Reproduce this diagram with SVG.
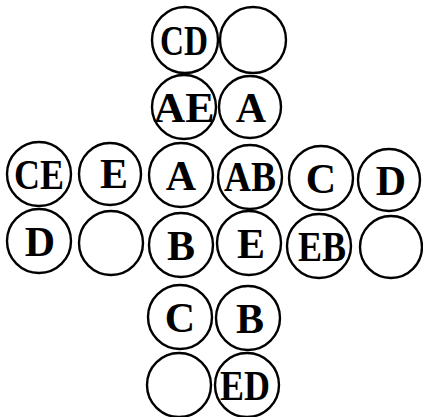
<svg xmlns="http://www.w3.org/2000/svg" width="423" height="417" viewBox="0 0 423 417">
<style>
.c{fill:#fff;stroke:#000;stroke-width:2.4}
.t{font-family:"Liberation Serif","DejaVu Serif",serif;font-weight:bold;font-size:42px;text-anchor:middle;fill:#000}
</style>
<rect width="423" height="417" fill="#fff"/>
<g id="n-cd"><circle class="c" cx="185" cy="40" r="33"/><text class="t" x="184" y="55" textLength="48" lengthAdjust="spacingAndGlyphs">CD</text></g>
<g id="n-e1"><circle class="c" cx="253" cy="40" r="33"/></g>
<g id="n-ae"><circle class="c" cx="184" cy="107" r="32"/><text class="t" x="184" y="122" textLength="61" lengthAdjust="spacingAndGlyphs">AE</text></g>
<g id="n-a1"><circle class="c" cx="250" cy="107" r="31"/><text class="t" x="251" y="122">A</text></g>
<g id="n-ce"><circle class="c" cx="39" cy="174" r="32"/><text class="t" x="39" y="189" textLength="50" lengthAdjust="spacingAndGlyphs">CE</text></g>
<g id="n-e2"><circle class="c" cx="110" cy="174" r="31"/><text class="t" x="114" y="188">E</text></g>
<g id="n-a2"><circle class="c" cx="181" cy="175" r="32"/><text class="t" x="181" y="190">A</text></g>
<g id="n-ab"><circle class="c" cx="250" cy="177" r="32"/><text class="t" x="250" y="191" textLength="52" lengthAdjust="spacingAndGlyphs">AB</text></g>
<g id="n-c1"><circle class="c" cx="321" cy="178" r="32"/><text class="t" x="321" y="193">C</text></g>
<g id="n-d1"><circle class="c" cx="389" cy="180" r="31"/><text class="t" x="391" y="195">D</text></g>
<g id="n-d2"><circle class="c" cx="39" cy="241" r="32"/><text class="t" x="40" y="256">D</text></g>
<g id="n-e3"><circle class="c" cx="111" cy="243" r="32"/></g>
<g id="n-b1"><circle class="c" cx="181" cy="245" r="32"/><text class="t" x="181" y="260">B</text></g>
<g id="n-e4"><circle class="c" cx="249" cy="243" r="32"/><text class="t" x="251" y="258">E</text></g>
<g id="n-eb"><circle class="c" cx="319" cy="246" r="32"/><text class="t" x="322" y="261" textLength="48" lengthAdjust="spacingAndGlyphs">EB</text></g>
<g id="n-e5"><circle class="c" cx="391" cy="247" r="31"/></g>
<g id="n-c2"><circle class="c" cx="180" cy="317" r="32"/><text class="t" x="180" y="332">C</text></g>
<g id="n-b2"><circle class="c" cx="248" cy="318" r="32"/><text class="t" x="250" y="333">B</text></g>
<g id="n-e6"><circle class="c" cx="179" cy="385" r="32"/></g>
<g id="n-ed"><circle class="c" cx="247" cy="385" r="32"/><text class="t" x="245" y="400" textLength="50" lengthAdjust="spacingAndGlyphs">ED</text></g>
<g id="connectors"></g>
</svg>
